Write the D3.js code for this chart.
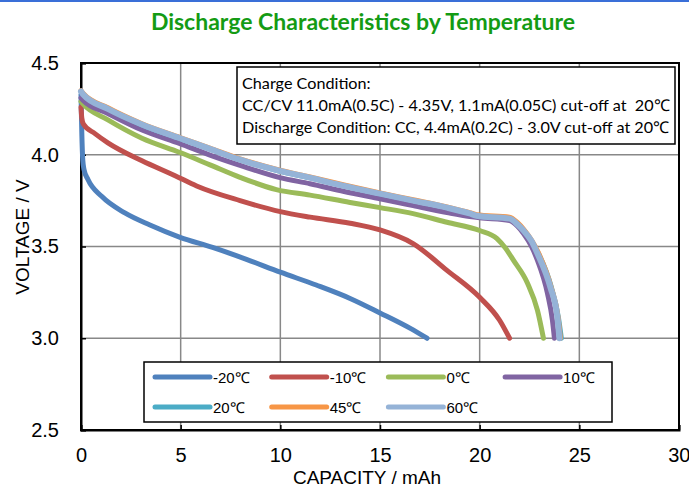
<!DOCTYPE html>
<html><head><meta charset="utf-8">
<script src="https://cdn.jsdelivr.net/npm/d3@7"></script>
<style>body{margin:0;background:#fff}svg{display:block}</style>
</head><body>
<svg id="c" width="689" height="487"></svg>
<script>
const seriesNames = ["-20℃","-10℃","0℃","10℃","20℃","45℃","60℃"];
const seriesColors = ["#4F81BD","#C0504D","#9BBB59","#8064A2","#4BACC6","#F79646","#95B3D7"];
const sM20 = [[0,4.33],[0.04,4.12],[0.09,3.97],[0.15,3.92],[0.35,3.865],[1.05,3.772],[2.2,3.683],[3.46,3.617],[4.97,3.55],[6.6,3.495],[8.3,3.43],[10.0,3.36],[11.8,3.29],[13.5,3.217],[15.0,3.138],[16.5,3.055],[17.36,3.0]];
const sM10 = [[0,4.26],[0.04,4.2],[0.12,4.168],[0.7,4.115],[1.35,4.065],[3.06,3.967],[4.72,3.886],[5.8,3.83],[7.98,3.75],[10.0,3.69],[11.5,3.66],[13.5,3.627],[15.0,3.59],[16.66,3.516],[18.36,3.37],[20.0,3.223],[21.0,3.098],[21.5,3.0]];
const s0 = [[0,4.29],[0.1,4.277],[1.35,4.19],[3.06,4.09],[4.97,4.012],[6.47,3.945],[7.98,3.877],[9.8,3.81],[11.49,3.78],[13.5,3.74],[15.0,3.712],[16.66,3.679],[18.36,3.632],[20.0,3.587],[20.87,3.543],[21.3,3.49],[21.7,3.424],[22.4,3.30],[22.9,3.152],[23.2,3.0]];
const s10 = [[0,4.31],[0.1,4.297],[1.35,4.225],[3.06,4.135],[4.97,4.06],[6.47,3.998],[7.98,3.942],[9.98,3.875],[11.49,3.842],[13.2,3.80],[15.0,3.76],[16.66,3.723],[18.36,3.685],[19.5,3.663],[20.0,3.656],[21.5,3.641],[21.9,3.61],[22.2,3.57],[22.6,3.50],[22.9,3.424],[23.4,3.245],[23.65,3.098],[23.75,3.0]];
const s20 = [[0,4.345],[0.1,4.33],[1.35,4.25],[3.06,4.163],[4.97,4.088],[6.47,4.03],[7.98,3.972],[9.98,3.91],[11.49,3.874],[13.2,3.83],[15.0,3.787],[16.66,3.75],[18.36,3.712],[19.5,3.68],[19.85,3.668],[21.5,3.654],[21.9,3.625],[22.2,3.59],[22.6,3.53],[22.95,3.462],[23.6,3.277],[23.95,3.114],[24.1,3.0]];
const s45 = [[0,4.35],[0.1,4.336],[1.35,4.256],[3.06,4.169],[4.97,4.094],[6.47,4.036],[7.98,3.978],[9.98,3.916],[11.49,3.879],[13.2,3.835],[15.0,3.792],[16.66,3.755],[18.36,3.716],[19.5,3.685],[19.85,3.673],[21.5,3.66],[21.9,3.63],[22.2,3.595],[22.6,3.535],[22.95,3.465],[23.58,3.28],[23.93,3.115],[24.05,3.0]];
const s60 = [[0,4.345],[0.1,4.33],[1.35,4.25],[3.06,4.165],[4.97,4.09],[6.47,4.032],[7.98,3.973],[9.98,3.912],[11.49,3.875],[13.2,3.83],[15.0,3.788],[16.66,3.75],[18.36,3.712],[19.5,3.68],[19.85,3.668],[21.5,3.652],[21.9,3.62],[22.2,3.587],[22.6,3.53],[22.9,3.462],[23.55,3.277],[23.9,3.114],[24.0,3.0]];
const seriesData = [sM20,sM10,s0,s10,s20,s45,s60];
const xTicks = [0,5,10,15,20,25,30];
const yTicks = [2.5,3.0,3.5,4.0,4.5];
const titleText = "Discharge Characteristics by Temperature";
const noteLines = ["Charge Condition:","CC/CV 11.0mA(0.5C) - 4.35V, 1.1mA(0.05C) cut-off at  20℃","Discharge Condition: CC, 4.4mA(0.2C) - 3.0V cut-off at 20℃"];

const svg = d3.select("#c");
const L=81,R=679,T=63,B=430;
const x = d3.scaleLinear().domain([0,30]).range([L,R]);
const y = d3.scaleLinear().domain([2.5,4.5]).range([B,T]);

svg.append("rect").attr("x",0).attr("y",0).attr("width",689).attr("height",2).attr("fill","#3a6fd8");

svg.append("text").attr("x",363).attr("y",30).attr("text-anchor","middle")
  .attr("font-family","Lato, 'Open Sans', sans-serif").attr("font-weight","bold").attr("font-size",23)
  .attr("fill","#149B14").text(titleText);

// grid
svg.append("g").selectAll("line").data(xTicks.slice(1,-1)).join("line")
  .attr("x1",d=>x(d)).attr("x2",d=>x(d)).attr("y1",T).attr("y2",B).attr("stroke","#888").attr("stroke-width",1.5);
svg.append("g").selectAll("line").data(yTicks.slice(1,-1)).join("line")
  .attr("y1",d=>y(d)).attr("y2",d=>y(d)).attr("x1",L).attr("x2",R).attr("stroke","#888").attr("stroke-width",1.5);
// frame
svg.append("rect").attr("x",L).attr("y",T).attr("width",R-L).attr("height",B-T).attr("fill","none").attr("stroke","#000").attr("stroke-width",2);

// axes
const xa = svg.append("g").attr("transform",`translate(0,${B})`)
  .call(d3.axisBottom(x).tickValues(xTicks).tickSize(-5).tickPadding(18).tickFormat(d3.format("d")));
const ya = svg.append("g").attr("transform",`translate(${L},0)`)
  .call(d3.axisLeft(y).tickValues(yTicks).tickSize(-5).tickPadding(22).tickFormat(d3.format(".1f")));
[xa,ya].forEach(a=>{
  a.select(".domain").attr("stroke","#000").attr("stroke-width",2);
  a.selectAll(".tick line").attr("stroke","#000").attr("stroke-width",1.5);
  a.selectAll(".tick text").attr("font-family","'Liberation Sans', Arial, sans-serif").attr("font-size",20).attr("fill","#000");
});
xa.selectAll(".tick text").filter(d=>d===30).attr("text-anchor","end").attr("dx","11");

svg.append("text").attr("x",367).attr("y",484).attr("text-anchor","middle")
  .attr("font-family","'Liberation Sans', Arial, sans-serif").attr("font-size",19).text("CAPACITY / mAh");
svg.append("text").attr("transform","translate(29,237) rotate(-90)").attr("text-anchor","middle")
  .attr("font-family","'Liberation Sans', Arial, sans-serif").attr("font-size",19).text("VOLTAGE / V");

// lines
const line = d3.line().x(d=>x(d[0])).y(d=>y(d[1])).curve(d3.curveMonotoneX);
svg.append("g").selectAll("path").data(seriesData).join("path")
  .attr("d",line).attr("fill","none").attr("stroke",(d,i)=>seriesColors[i])
  .attr("stroke-width",(d,i)=>i===6?6:5).attr("stroke-linecap","round").attr("stroke-linejoin","round");

// annotation box
const nb = svg.append("g");
nb.append("rect").attr("x",237).attr("y",67).attr("width",438).attr("height",77).attr("fill","#fff").attr("stroke","#000").attr("stroke-width",1.5);
nb.selectAll("text").data(noteLines).join("text")
  .attr("x",242).attr("y",(d,i)=>89+i*22)
  .attr("xml:space","preserve").style("white-space","pre")
  .attr("font-family","Lato, 'Open Sans', sans-serif").attr("font-size",16.2).attr("fill","#000").text(d=>d);

// legend
const lg = svg.append("g");
lg.append("rect").attr("x",144).attr("y",362).attr("width",468).attr("height",60).attr("fill","#fff").attr("stroke","#000").attr("stroke-width",1.5);
const items = lg.selectAll("g").data(seriesNames).join("g")
  .attr("transform",(d,i)=>`translate(${155+(i%4)*116.7},${i<4?377:407})`);
items.append("line").attr("x1",0).attr("x2",55).attr("y1",0).attr("y2",0)
  .attr("stroke",(d,i)=>seriesColors[i]).attr("stroke-width",5).attr("stroke-linecap","round");
items.append("text").attr("x",58).attr("y",5.5).attr("font-family","'Liberation Sans', Arial, sans-serif")
  .attr("font-size",15).attr("fill","#000").text(d=>d);
</script>
</body></html>
